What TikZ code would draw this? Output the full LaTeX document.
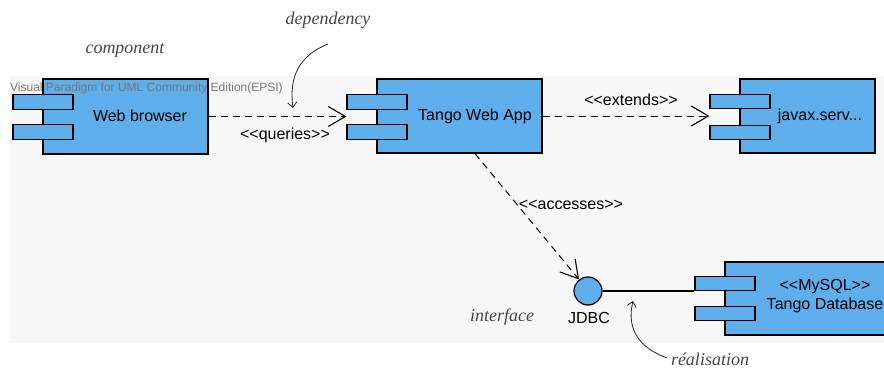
\documentclass[tikz,border=0pt]{standalone}
\usepackage{fontspec}
\setmainfont{Liberation Sans}
\newfontfamily\handfont{Liberation Serif}
\usetikzlibrary{arrows.meta}
\definecolor{compblue}{RGB}{94,174,236}
\definecolor{bggray}{RGB}{247,247,247}
\definecolor{wmgray}{RGB}{120,120,120}
\definecolor{handgray}{RGB}{70,70,70}
\tikzset{
  comp/.style={draw=black, fill=compblue, line width=1.2pt, inner sep=0pt},
  tabbox/.style={draw=black, fill=compblue, line width=1.2pt, inner sep=0pt, minimum width=60pt, minimum height=14.5pt},
  ctext/.style={font=\fontsize{16}{19}\selectfont, inner sep=0pt, align=center},
  lbl/.style={font=\fontsize{16}{19}\selectfont, inner sep=0pt},
  dep/.style={line width=1pt, dash pattern=on 7pt off 5pt, -{Straight Barb[length=17pt,width=20pt,line width=1.1pt]}},
  note/.style={font=\handfont\itshape\fontsize{18}{20}\selectfont, text=handgray, inner sep=0pt},
  notearrow/.style={line width=0.8pt, draw=black!85, -{Straight Barb[length=5pt,width=9pt]}}
}
\begin{document}
\begin{tikzpicture}[x=1pt,y=-1pt]
\useasboundingbox (0,0) rectangle (884,369);
\fill[bggray] (10,76) rectangle (884,343);

% Web browser
\node[comp, minimum width=165pt, minimum height=75pt] (wb) at (125.5,116.5) {};
\node[tabbox] (wb1) at (43,102) {};
\node[tabbox] (wb2) at (43,132) {};
\node[ctext] (wbt) at (140,116) {Web browser};

% Tango Web App
\node[comp, minimum width=165pt, minimum height=74pt] (twa) at (459.5,116) {};
\node[tabbox] (twa1) at (377,102) {};
\node[tabbox] (twa2) at (377,132) {};
\node[ctext] (twat) at (475,116) {Tango Web App};

% javax
\node[comp, minimum width=135pt, minimum height=74pt] (jx) at (807.5,116) {};
\node[tabbox] (jx1) at (740,101.5) {};
\node[tabbox] (jx2) at (740,132.5) {};
\node[ctext] (jxt) at (820,116) {javax.serv...};

% Tango Database
\node[comp, minimum width=168pt, minimum height=73pt] (db) at (809,298.5) {};
\node[tabbox] (db1) at (725,283.5) {};
\node[tabbox] (db2) at (725,313.5) {};
\node[ctext] (dbt) at (825,296) {{<}{<}MySQL{>}{>}\\Tango Database};

% JDBC interface
\node[circle, draw=black, fill=compblue, line width=1.2pt, minimum size=28pt, inner sep=0pt] (jdbc) at (588,291) {};
\node[lbl] (jdbct) at (589,318) {JDBC};

% connectors
\draw[dep] (wb.east) -- (wb.east -| twa1.west);
\node[lbl] (q) at (285,135) {{<}{<}queries{>}{>}};
\draw[dep] (twa.east) -- (twa.east -| jx1.west);
\node[lbl] (ex) at (631,100) {{<}{<}extends{>}{>}};
\draw[dep] ([xshift=15.5pt]twa.south) -- (jdbc.128);
\node[lbl] (ac) at (571,205) {{<}{<}accesses{>}{>}};
\draw[line width=1.2pt] (jdbc.east) -- (jdbc.east -| db1.west);

% watermark on top
\node[font=\fontsize{12}{14}\selectfont, text=wmgray, anchor=west, inner sep=0pt] (wm) at (10,88) {Visual Paradigm for UML Community Edition(EPSI)};

% annotations
\node[note] (ncomp) at (125,50) {component};
\node[note] (ndep) at (328,20) {dependency};
\node[note] (nint) at (502,317) {interface};
\node[note] (nreal) at (710,359) {réalisation};
\coordinate (d0) at (328,44);
\coordinate (d1) at (293,108);
\draw[notearrow] (d0) .. controls (298,56) and (289,78) .. (d1);
\coordinate (r0) at (667,358);
\coordinate (r1) at (633,301);
\draw[notearrow] (r0) .. controls (640,348) and (626,330) .. (r1);
\end{tikzpicture}
\end{document}
